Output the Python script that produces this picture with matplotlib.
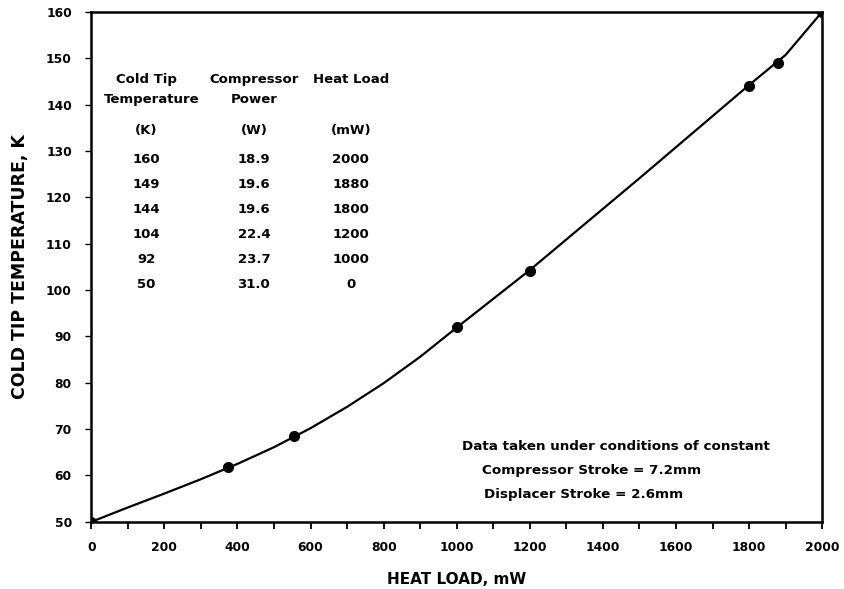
import matplotlib
matplotlib.use('Agg')
import matplotlib.pyplot as plt
from matplotlib.ticker import MultipleLocator

# measured points: heat load (mW) vs cold tip temperature (K)
heat_load = [0, 375, 555, 1000, 1200, 1800, 1880, 2000]
tip_temp = [50, 61.8, 68.5, 92, 104, 144, 149, 160]

# smooth curve drawn through the data
curve_load = [0, 100, 200, 300, 400, 500, 600, 700, 800, 900, 1000,
              1100, 1200, 1300, 1400, 1500, 1600, 1700, 1800, 1900, 2000]
curve_temp = [50, 53.1, 56.1, 59.2, 62.5, 66.1, 70.2, 74.8, 79.9, 85.6, 91.9,
              98.1, 104.3, 110.9, 117.5, 124.1, 130.8, 137.5, 144.2, 150.7, 160]

# table values
tbl_temp = ['160', '149', '144', '104', '92', '50']
tbl_power = ['18.9', '19.6', '19.6', '22.4', '23.7', '31.0']
tbl_load = ['2000', '1880', '1800', '1200', '1000', '0']

notes = ['Data taken under conditions of constant',
         'Compressor Stroke = 7.2mm',
         'Displacer Stroke = 2.6mm']

plt.rcParams['font.family'] = 'DejaVu Sans'
plt.rcParams['font.weight'] = 'bold'

fig = plt.figure(figsize=(8.45, 5.89), dpi=100)
ax = fig.add_axes([0.108, 0.114, 0.865, 0.866])

ax.plot(curve_load, curve_temp, color='black', lw=1.6)
ax.plot(heat_load, tip_temp, 'o', color='black', ms=7)

ax.set_xlim(0, 2000)
ax.set_ylim(50, 160)
ax.xaxis.set_major_locator(MultipleLocator(200))
ax.xaxis.set_minor_locator(MultipleLocator(100))
ax.yaxis.set_major_locator(MultipleLocator(10))
ax.tick_params(axis='x', which='both', direction='out', length=5, width=1.3, pad=9, labelsize=8.8)
ax.tick_params(axis='y', which='both', direction='out', length=4, width=1.0, pad=10, labelsize=8.8)
for lbl in ax.get_xticklabels() + ax.get_yticklabels():
    lbl.set_fontweight('bold')
for sp in ax.spines.values():
    sp.set_linewidth(1.8)

ax.set_xlabel('HEAT LOAD, mW', fontsize=11, fontweight='bold', labelpad=13)
ax.set_ylabel('COLD TIP TEMPERATURE, K', fontsize=12.5, fontweight='bold', labelpad=12)

# table in the upper left
fs = 9.5
cols_x = [150, 445, 710]
ax.text(cols_x[0], 145.3, 'Cold Tip', ha='center', va='center', fontsize=fs)
ax.text(cols_x[0] + 15, 141, 'Temperature', ha='center', va='center', fontsize=fs)
ax.text(cols_x[0], 134.5, '(K)', ha='center', va='center', fontsize=fs)
ax.text(cols_x[1], 145.3, 'Compressor', ha='center', va='center', fontsize=fs)
ax.text(cols_x[1], 141, 'Power', ha='center', va='center', fontsize=fs)
ax.text(cols_x[1], 134.5, '(W)', ha='center', va='center', fontsize=fs)
ax.text(cols_x[2], 145.3, 'Heat Load', ha='center', va='center', fontsize=fs)
ax.text(cols_x[2], 134.5, '(mW)', ha='center', va='center', fontsize=fs)

row_y = [128.2, 122.8, 117.4, 112.0, 106.6, 101.2]
for y, t, p, q in zip(row_y, tbl_temp, tbl_power, tbl_load):
    ax.text(cols_x[0], y, t, ha='center', va='center', fontsize=fs)
    ax.text(cols_x[1], y, p, ha='center', va='center', fontsize=fs)
    ax.text(cols_x[2], y, q, ha='center', va='center', fontsize=fs)

ax.text(1015, 66.2, notes[0], ha='left', va='center', fontsize=9.7)
ax.text(1070, 61.0, notes[1], ha='left', va='center', fontsize=9.7)
ax.text(1075, 56.0, notes[2], ha='left', va='center', fontsize=9.7)

fig.savefig('out.png', dpi=100)
